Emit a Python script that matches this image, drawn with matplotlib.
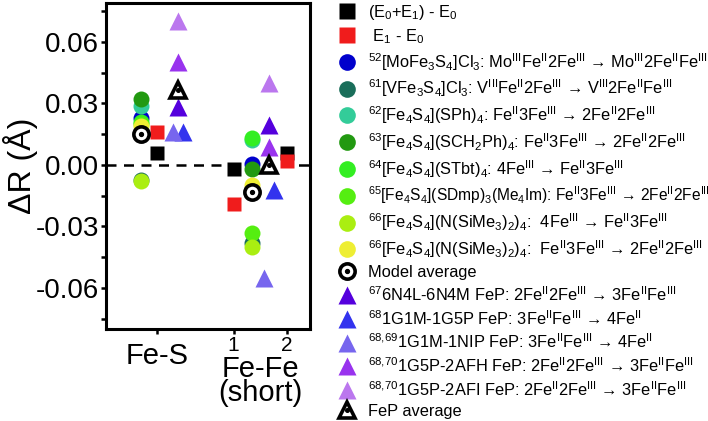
import matplotlib
matplotlib.use("Agg")
import matplotlib.pyplot as plt
from matplotlib.lines import Line2D
from matplotlib.ticker import MultipleLocator

plt.rcParams['font.family'] = ['Liberation Sans', 'DejaVu Sans']
plt.rcParams['mathtext.fontset'] = 'custom'
plt.rcParams['mathtext.rm'] = 'Liberation Sans'
plt.rcParams['mathtext.default'] = 'regular'

# category positions: Fe-S, Fe-Fe 1, Fe-Fe 2
cat_x = [1.0, 2.5, 3.55]

# squares (energy terms), one value per category
sq_names = ["(E$_0$+E$_1$) - E$_0$", " E$_1$ - E$_0$"]
sq_colors = ["#000000", "#f01c1c"]
sq_vals = [[0.006, -0.002, 0.006],
           [0.016, -0.019, 0.002]]

# model complexes (circles): Fe-S, Fe-Fe
circ_names = [
    "$^{52}$[MoFe$_3$S$_4$]Cl$_3$: Mo$^{III}$Fe$^{II}$2Fe$^{III}$ → Mo$^{III}$2Fe$^{II}$Fe$^{III}$",
    "$^{61}$[VFe$_3$S$_4$]Cl$_3$: V$^{III}$Fe$^{II}$2Fe$^{III}$ → V$^{III}$2Fe$^{II}$Fe$^{III}$",
    "$^{62}$[Fe$_4$S$_4$](SPh)$_4$: Fe$^{II}$3Fe$^{III}$ → 2Fe$^{II}$2Fe$^{III}$",
    "$^{63}$[Fe$_4$S$_4$](SCH$_2$Ph)$_4$: Fe$^{II}$3Fe$^{III}$ → 2Fe$^{II}$2Fe$^{III}$",
    "$^{64}$[Fe$_4$S$_4$](STbt)$_4$: 4Fe$^{III}$ → Fe$^{II}$3Fe$^{III}$",
    "$^{65}$[Fe$_4$S$_4$](SDmp)$_3$(Me$_4$Im): Fe$^{II}$3Fe$^{III}$ → 2Fe$^{II}$2Fe$^{III}$",
    "$^{66}$[Fe$_4$S$_4$](N(SiMe$_3$)$_2$)$_4$:  4Fe$^{III}$ → Fe$^{II}$3Fe$^{III}$",
    "$^{66}$[Fe$_4$S$_4$](N(SiMe$_3$)$_2$)$_4$:  Fe$^{II}$3Fe$^{III}$ → 2Fe$^{II}$2Fe$^{III}$",
]
circ_colors = ["#0000cc", "#1a6e5a", "#33cc99", "#229911",
               "#33ee22", "#55ee11", "#aaee11", "#eeee33"]
circ_vals = [[0.023, 0.0005],
             [-0.0075, -0.038],
             [0.029, 0.012],
             [0.032, -0.002],
             [0.021, 0.013],
             [0.020, -0.033],
             [-0.008, -0.040],
             [0.019, -0.0098]]
model_avg = [0.015, -0.013]

# FeP (triangles): Fe-S, Fe-Fe
tri_names = [
    "$^{67}$6N4L-6N4M FeP: 2Fe$^{II}$2Fe$^{III}$ → 3Fe$^{II}$Fe$^{III}$",
    "$^{68}$1G1M-1G5P FeP: 3Fe$^{II}$Fe$^{III}$ → 4Fe$^{II}$",
    "$^{68,\\!69}$1G1M-1NIP FeP: 3Fe$^{II}$Fe$^{III}$ → 4Fe$^{II}$",
    "$^{68,\\!70}$1G5P-2AFH FeP: 2Fe$^{II}$2Fe$^{III}$ → 3Fe$^{II}$Fe$^{III}$",
    "$^{68,\\!70}$1G5P-2AFI FeP: 2Fe$^{II}$2Fe$^{III}$ → 3Fe$^{II}$Fe$^{III}$",
]
tri_colors = ["#5500dd", "#3333ee", "#7766ee", "#9933ee", "#bb77ee"]
tri_vals = [[0.0285, 0.0195],
            [0.016, -0.0122],
            [0.016, -0.055],
            [0.050, 0.0086],
            [0.070, 0.040]]
fep_avg = [0.0366, 0.000]

# horizontal placement of circle/triangle columns (Fe-S, Fe-Fe)
circ_x = [0.686, 2.857]
tri_x = [1.41, 3.19]
tri_shift = [0, 0.1, -0.1, 0, 0]

fig = plt.figure(figsize=(7.08, 4.21), dpi=100)
ax = fig.add_axes([0.1497, 0.2185, 0.2882, 0.7744])

ax.axhline(0, color='black', ls=(0, (4, 3)), lw=1.8, zorder=1)

ms_sq, ms_c, ms_t = 10, 11.5, 12.5
handles = []
for name, col, v in zip(sq_names, sq_colors, sq_vals):
    ax.plot(cat_x, v, 's', color=col, ms=ms_sq, mec='none', zorder=3)
    handles.append(Line2D([], [], marker='s', ls='none', color=col, ms=11, mec='none'))

for name, col, v in zip(circ_names, circ_colors, circ_vals):
    ax.plot(circ_x, v, 'o', color=col, ms=ms_c, mec='none', zorder=3)
    handles.append(Line2D([], [], marker='o', ls='none', color=col, ms=12, mec='none'))

ax.plot(circ_x, model_avg, 'o', mfc='white', mec='black', mew=2.6, ms=11, zorder=4)
ax.plot(circ_x, model_avg, 'o', color='black', ms=2.8, zorder=5)
handles.append((Line2D([], [], marker='o', ls='none', mfc='white', mec='black', mew=2.6, ms=11),
                Line2D([], [], marker='o', ls='none', color='black', ms=2.8)))

for name, col, v, dx in zip(tri_names, tri_colors, tri_vals, tri_shift):
    ax.plot([x + dx for x in tri_x], v, '^', color=col, ms=ms_t, mec='none', zorder=3)
    handles.append(Line2D([], [], marker='^', ls='none', color=col, ms=13, mec='none'))

ax.plot(tri_x, fep_avg, '^', mfc='white', mec='black', mew=2.6, ms=11.5, zorder=4)
ax.plot(tri_x, fep_avg, 'o', color='black', ms=2.6, zorder=5)
handles.append((Line2D([], [], marker='^', ls='none', mfc='white', mec='black', mew=2.6, ms=11.5),
                Line2D([], [], marker='o', ls='none', color='black', ms=2.6)))

labels = sq_names + circ_names + ["Model average"] + tri_names + ["FeP average"]

ax.set_xlim(0, 4)
ax.set_ylim(-0.080, 0.079)
ax.set_yticks([-0.06, -0.03, 0.0, 0.03, 0.06])
ax.set_yticklabels(["-0.06", "-0.03", "0.00", "0.03", "0.06"])
ax.yaxis.set_minor_locator(MultipleLocator(0.015))
ax.set_xticks(cat_x)
ax.set_xticklabels(["", "1", "2"], fontsize=15)
ax.tick_params(axis='y', which='both', direction='out', length=3.5, width=1.8,
               labelsize=20, pad=1.5)
ax.tick_params(axis='x', direction='out', length=3.5, width=1.8, pad=1.5)
for s in ax.spines.values():
    s.set_linewidth(2.2)

ax.set_ylabel("ΔR (Å)", fontsize=23)
ax.yaxis.set_label_coords(-0.335, 0.5)

ax.annotate("Fe-S", xy=(cat_x[0], 0), xycoords=('data', 'axes fraction'),
            xytext=(0, -9), textcoords='offset points', ha='center', va='top', fontsize=21)
ax.annotate("Fe-Fe\n(short)", xy=(3.02, 0), xycoords=('data', 'axes fraction'),
            xytext=(0, -18.5), textcoords='offset points', ha='center', va='top',
            fontsize=21, linespacing=0.85)

leg = fig.legend(handles, labels, loc='upper left', bbox_to_anchor=(339 / 708, 1 - 3 / 421),
                 frameon=False, fontsize=11.8, handlelength=1.0, handletextpad=0.75,
                 labelspacing=0.31, borderpad=0, borderaxespad=0)
# the longest row reaches the right edge; keep it inside the figure
leg.get_texts()[7].set_fontsize(11.2)

fig.savefig("out.png", dpi=100)
